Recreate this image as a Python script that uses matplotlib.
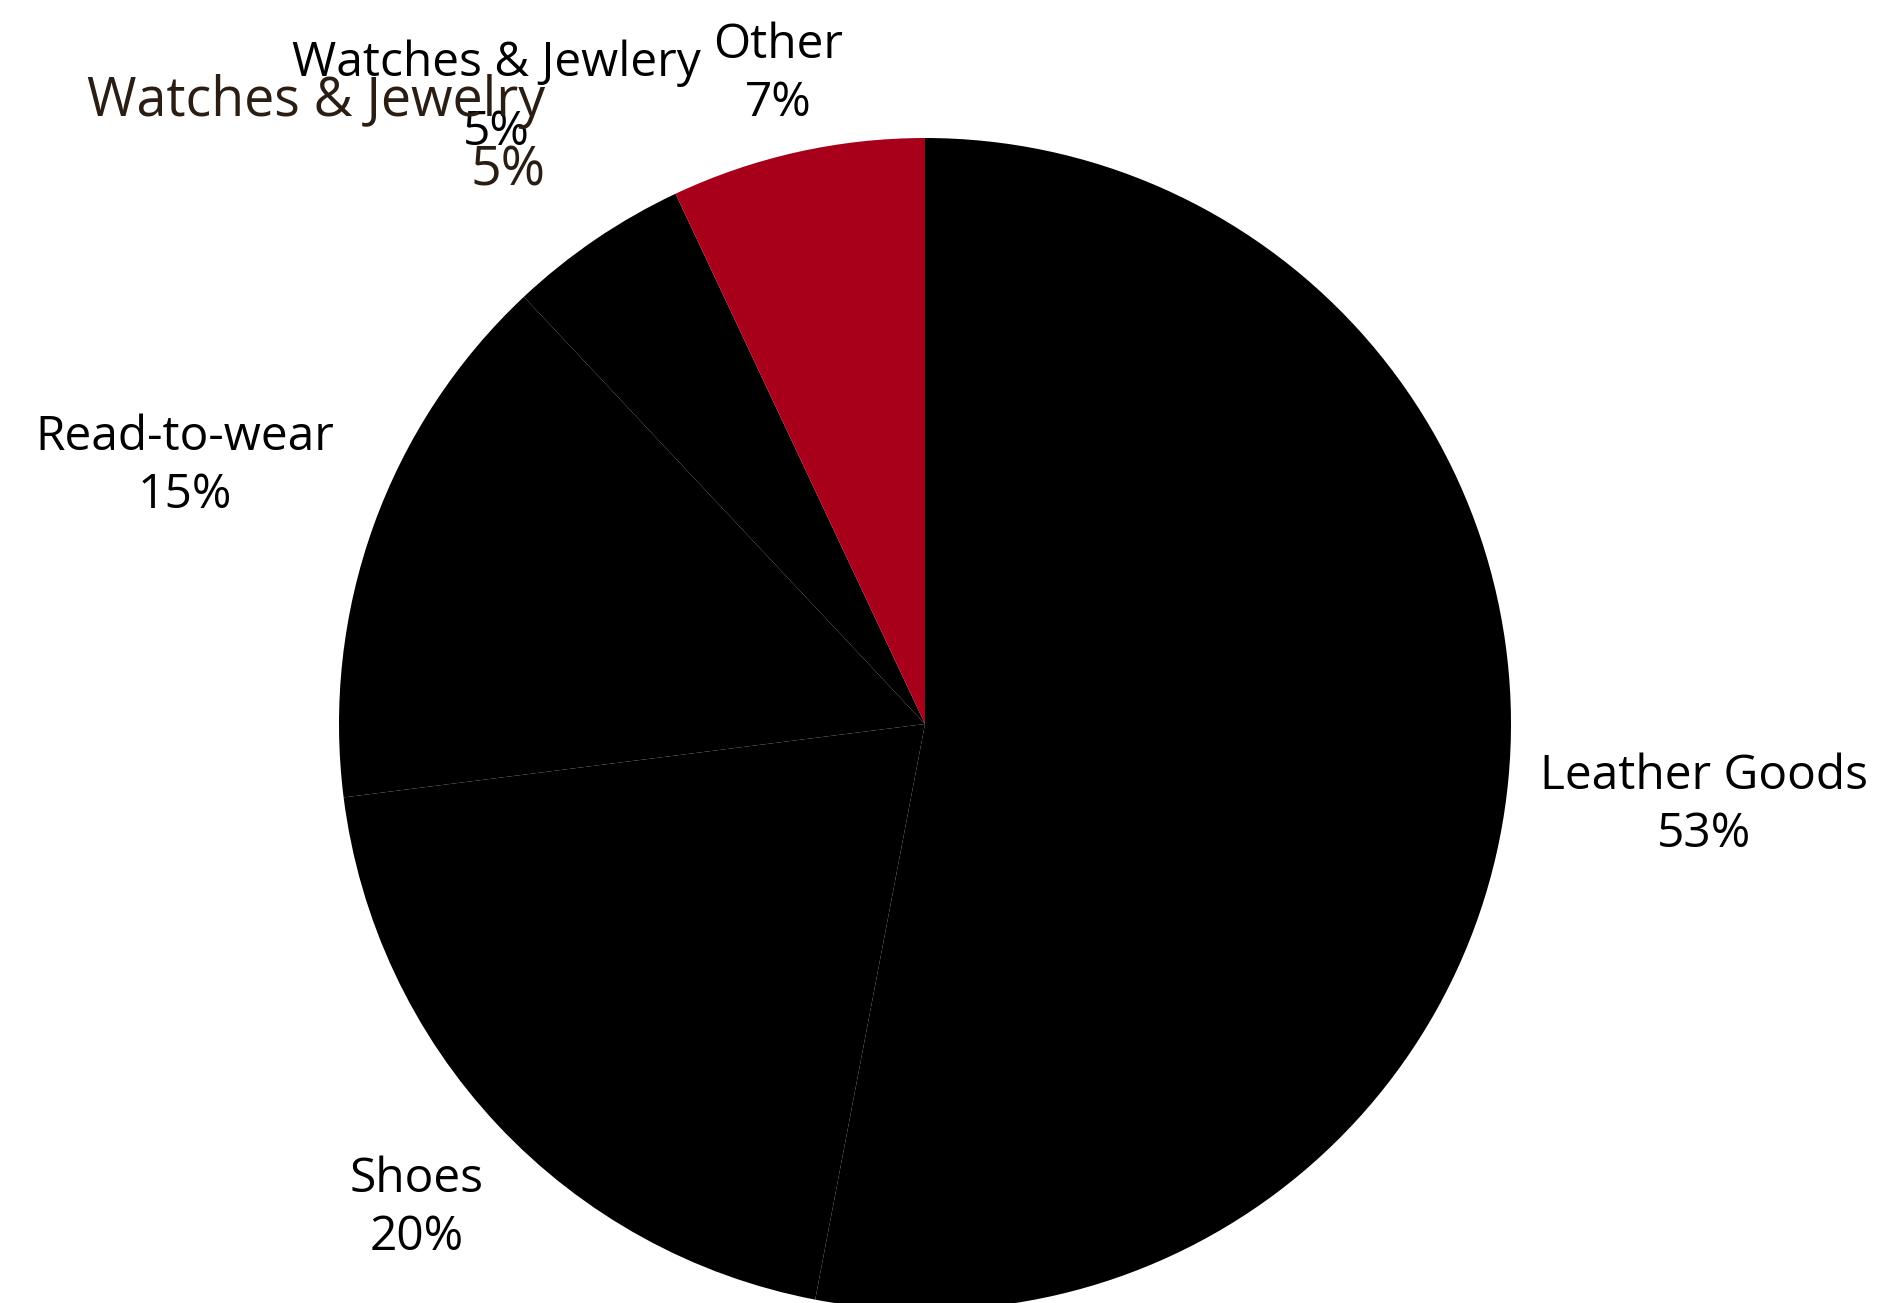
import matplotlib
matplotlib.use("Agg")
import matplotlib.pyplot as plt

categories = ["Leather Goods", "Shoes", "Read-to-wear", "Watches & Jewlery", "Other"]
values = [53, 20, 15, 5, 7]
colors = ["#000000", "#000000", "#000000", "#000000", "#A8001B"]
extra_label = "Watches & Jewelry"
extra_value = 5

W, H = 1886, 1303
fig = plt.figure(figsize=(W / 100, H / 100), dpi=100)
ax = fig.add_axes([0, 0, 1, 1])

ax.pie(values, colors=colors, startangle=90, counterclock=False,
       center=(925, H - 724), radius=586, frame=True,
       wedgeprops=dict(linewidth=0))
ax.set_xlim(0, W)
ax.set_ylim(0, H)
ax.set_aspect("equal")
ax.axis("off")

font = ["Open Sans", "DejaVu Sans"]
fs = 34.5
# label anchor: (x center, last-line baseline, linespacing) in pixels from top-left
pos = {
    "Leather Goods": (1704, 847, 1.28),
    "Shoes": (417, 1250, 1.28),
    "Read-to-wear": (185, 508, 1.28),
    "Watches & Jewlery": (496, 145, 1.59),
    "Other": (778, 116, 1.28),
}
for c, v in zip(categories, values):
    x, y, ls = pos[c]
    ax.text(x, H - y, f"{c}\n{v}%", ha="center", va="baseline", fontsize=fs,
            family=font, color="#000000", linespacing=ls)

ax.text(545, H - 185, f"{extra_label}\n{extra_value}%", ha="right", va="baseline",
        fontsize=fs * 1.12, family=font, color="#2A1E14", linespacing=1.33,
        multialignment="right")

fig.savefig("out.png", dpi=100, facecolor="white")
